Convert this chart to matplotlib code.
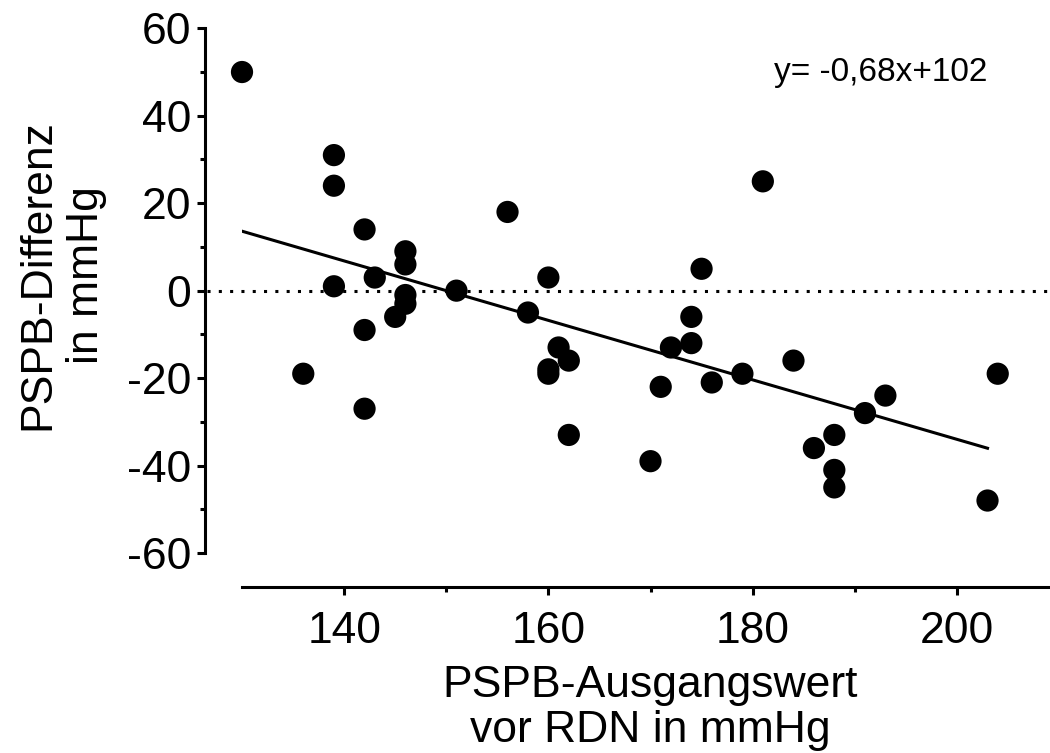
import matplotlib
matplotlib.use("Agg")
import matplotlib.pyplot as plt
import numpy as np

# data
baseline = [130, 139, 139, 142, 146, 146, 143, 139, 156, 151, 160, 158, 146, 146, 145,
            142, 136, 142, 161, 162, 160, 160, 162,
            181, 175, 174, 174, 172, 171, 176, 179, 184, 170, 193, 191, 188, 186, 188, 188, 204, 203]
difference = [50, 31, 24, 14, 9, 6, 3, 1, 18, 0, 3, -5, -1, -3, -6,
              -9, -19, -27, -13, -16, -18, -19, -33,
              25, 5, -6, -12, -13, -22, -21, -19, -16, -39, -24, -28, -33, -36, -41, -45, -19, -48]

fit_slope = -0.68
fit_intercept = 102
fit_range = [130, 203]
equation = "y= -0,68x+102"

plt.rcParams['font.family'] = ['Liberation Sans', 'DejaVu Sans']
plt.rcParams['axes.unicode_minus'] = False

W, H = 1050, 753
fig = plt.figure(figsize=(W / 100, H / 100), dpi=100)
ax = fig.add_axes([242 / W, (H - 553) / H, 817 / W, 524.7 / H])

ax.scatter(baseline, difference, s=16 ** 2, color='black', edgecolors='none', zorder=3, clip_on=False)

fx = np.array(fit_range)
ax.plot(fx, fit_slope * fx + fit_intercept, color='black', lw=2.2, zorder=2)

ax.axhline(0, xmin=-0.043, xmax=1, color='black', lw=2.2, linestyle=(0, (1, 2.7)), clip_on=False, zorder=1)

ax.set_xlim(130, 210)
ax.set_ylim(-60, 60)
ax.set_xticks([140, 160, 180, 200])
ax.set_xticks([150, 170, 190], minor=True)
ax.set_yticks([-60, -40, -20, 0, 20, 40, 60])
ax.set_yticks(np.arange(-50, 60, 20), minor=True)

for side in ['top', 'right']:
    ax.spines[side].set_visible(False)
ax.spines['left'].set_position(('outward', 37 * 0.72))
ax.spines['bottom'].set_position(('outward', 34 * 0.72))
ax.spines['left'].set_bounds(-60, 60)
ax.spines['bottom'].set_bounds(130, 210)
for side in ['left', 'bottom']:
    ax.spines[side].set_linewidth(2.2)

ax.tick_params(which='major', length=6, width=2.2, labelsize=32, color='black')
ax.tick_params(which='minor', length=3.5, width=2.2)
ax.tick_params(axis='y', which='major', pad=4)
ax.tick_params(axis='x', which='major', pad=11.5)

fig.text(62 / W, 1 - 275 / H, "PSPB-Differenz\nin mmHg", rotation=90, ha='center', va='center',
         multialignment='center', fontsize=32, linespacing=1.25)
fig.text(650 / W, 1 - 708 / H, "PSPB-Ausgangswert\nvor RDN in mmHg", ha='center', va='center',
         multialignment='center', fontsize=32, linespacing=1.12)
fig.text(881 / W, 1 - 72 / H, equation, ha='center', va='center', fontsize=24)

fig.savefig("out.png", dpi=100)
